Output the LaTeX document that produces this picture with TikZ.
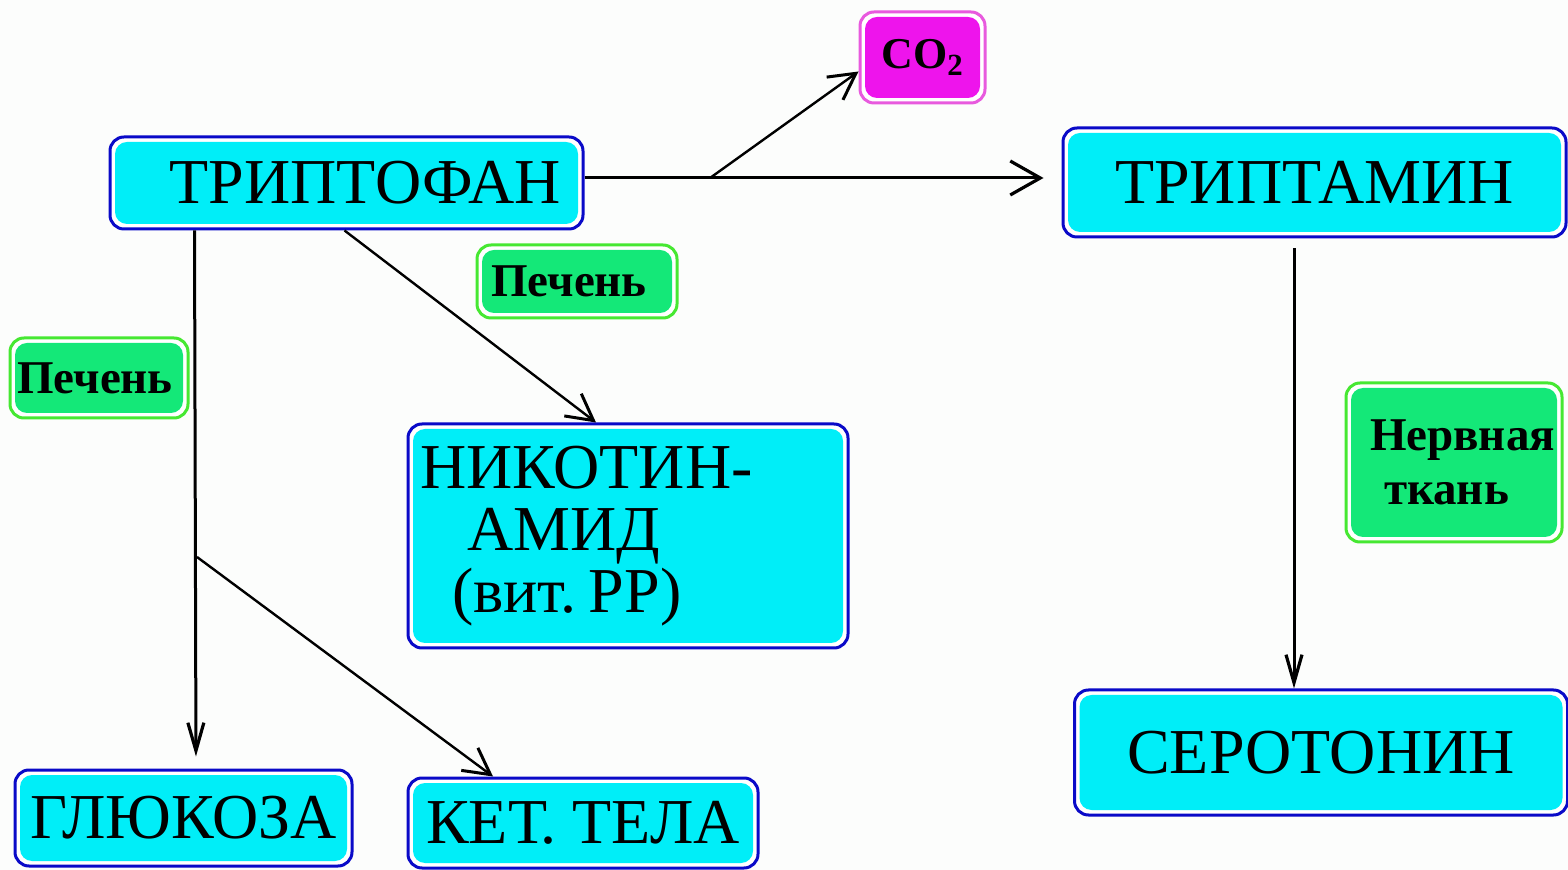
\documentclass[tikz,border=0pt]{standalone}
\usepackage{fontspec}
\setmainfont{Liberation Serif}
\usetikzlibrary{arrows.meta}
\definecolor{cfill}{RGB}{0,238,248}
\definecolor{cblue}{RGB}{10,10,200}
\definecolor{gfill}{RGB}{20,232,120}
\definecolor{gline}{RGB}{70,232,50}
\definecolor{mfill}{RGB}{238,20,236}
\definecolor{mline}{RGB}{232,90,222}
\definecolor{bg}{RGB}{252,253,252}
\tikzset{
  boxbase/.style={rounded corners=7pt, line width=1.5pt, fill=white, inner sep=0pt,
    path picture={\fill[#1, rounded corners=6pt]
      ([shift={(2.5pt,2.5pt)}]path picture bounding box.south west) rectangle
      ([shift={(-2.5pt,-2.5pt)}]path picture bounding box.north east);}},
  cbox/.style={boxbase=cfill, draw=cblue, font=\fontsize{32}{31}\selectfont},
  gbox/.style={boxbase=gfill, draw=gline, font=\fontsize{23.5}{27}\selectfont\bfseries},
  mbox/.style={boxbase=mfill, draw=mline, font=\fontsize{22}{26}\selectfont\bfseries},
  arr/.style={line width=1.2pt, -{Straight Barb[length=13pt,width=14pt,line width=1.5pt]}},
  varr/.style={line width=1.5pt, -{Straight Barb[length=14pt,width=8pt,line width=1.6pt]}},
  harr/.style={line width=1.5pt, -{Straight Barb[length=15pt,width=17pt,line width=1.6pt]}},
}
\begin{document}
\frenchspacing
\begin{tikzpicture}[x=0.5pt,y=-0.5pt]
\useasboundingbox[fill=bg] (0,0) rectangle (1568,870);
% nodes
\node[cbox, minimum width=236.5pt, minimum height=46pt] (trp) at (346.5,183) {\hspace*{19pt}ТРИПТОФАН};
\node[mbox, minimum width=62.5pt, minimum height=45.5pt] (co2) at (922.5,57.5) {CO\textsubscript{2}};
\node[cbox, minimum width=251.5pt, minimum height=54.5pt] (tam) at (1314.5,182.5) {ТРИПТАМИН};
\node[gbox, minimum width=100pt, minimum height=36.5pt] (pe1) at (577,281.5) {Печень\hspace*{8pt}};
\node[gbox, minimum width=89pt, minimum height=40pt] (pe2) at (99,378) {Печень\hspace*{4pt}};
\node[cbox, minimum width=220pt, minimum height=112pt, text width=208pt, inner xsep=6pt, align=left] (nic) at (628,536)
  {НИКОТИН-\\\hspace*{23.5pt}АМИД\\\hspace*{16pt}(вит.\hspace{6pt}РР)};
\node[gbox, minimum width=108pt, minimum height=79.5pt, text width=84pt, inner xsep=12pt, align=left] (nt) at (1454,462.5)
  {Нервная\\\hspace*{7pt}ткань};
\node[cbox, minimum width=168.5pt, minimum height=48pt] (glu) at (183.5,818) {ГЛЮКОЗА};
\node[cbox, minimum width=175pt, minimum height=45pt] (ket) at (583,823) {КЕТ. ТЕЛА};
\node[cbox, minimum width=246.5pt, minimum height=62.5pt] (ser) at (1321,752.5) {\raisebox{-5pt}{СЕРОТОНИН}};
% connectors
\coordinate (b1) at (710,178);
\coordinate (b2) at (197,557);
\draw[harr, shorten >=9pt] ([yshift=2.5pt]trp.east) -- ([yshift=2.25pt]tam.west);
\draw[arr] (b1) -- ([yshift=-7pt]co2.west);
\draw[arr] ([xshift=-1pt]trp.south) -- ([xshift=-16pt]nic.north);
\draw[varr, shorten >=6pt] ([xshift=43pt]trp.south west) -- ([xshift=6.25pt]glu.north);
\draw[arr] (b2) -- ([xshift=-45pt]ket.north);
\draw[varr, shorten <=5pt] ([xshift=-10.25pt]tam.south) -- ([xshift=-13.5pt]ser.north);
\end{tikzpicture}
\end{document}
